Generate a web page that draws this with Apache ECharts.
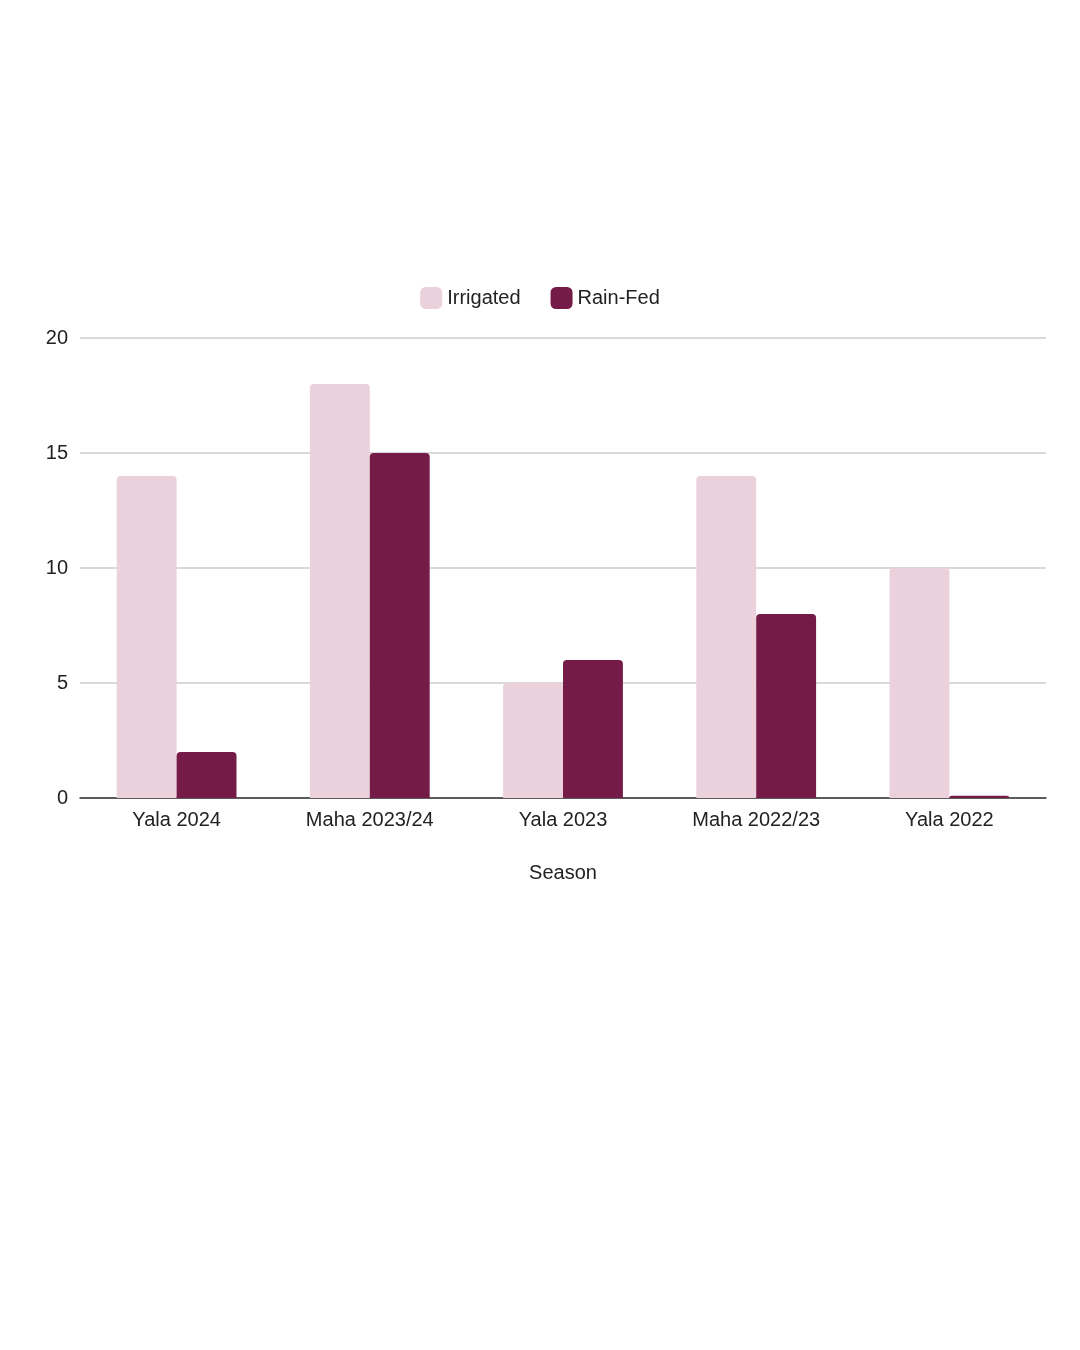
<!DOCTYPE html>
<html>
<head>
<meta charset="utf-8">
<script src="https://cdn.jsdelivr.net/npm/echarts@6/dist/echarts.min.js"></script>
<style>
  html, body { margin: 0; padding: 0; background: #fff; }
  #main { width: 1080px; height: 1350px; }
</style>
</head>
<body>
<div id="main"></div>
<script>
var seasons = ['Yala 2024', 'Maha 2023/24', 'Yala 2023', 'Maha 2022/23', 'Yala 2022'];
var irrigated = [14, 18, 5, 14, 10];
var rainFed = [2, 15, 6, 8, 0.1];

var chart = echarts.init(document.getElementById('main'));
chart.setOption({
  animation: false,
  textStyle: { fontFamily: 'Arial, Liberation Sans, sans-serif' },
  legend: {
    top: 282,
    left: 'center',
    itemWidth: 22,
    itemHeight: 22,
    itemGap: 30,
    icon: 'roundRect',
    textStyle: { fontSize: 20, color: '#222' },
    data: ['Irrigated', 'Rain-Fed']
  },
  grid: { left: 80, right: 34, top: 338, height: 460 },
  xAxis: {
    type: 'category',
    data: seasons,
    name: 'Season',
    nameLocation: 'middle',
    nameGap: 65,
    nameTextStyle: { fontSize: 20, color: '#222' },
    axisTick: { show: false },
    axisLine: { lineStyle: { color: '#333', width: 1.5 } },
    axisLabel: { fontSize: 20, color: '#222', margin: 12 }
  },
  yAxis: {
    type: 'value',
    min: 0,
    max: 20,
    interval: 5,
    axisLabel: { fontSize: 20, color: '#222', margin: 12 },
    splitLine: { lineStyle: { color: '#ccc', width: 1.5 } }
  },
  series: [
    {
      name: 'Irrigated',
      type: 'bar',
      data: irrigated,
      barGap: '0%',
      barCategoryGap: '38%',
      itemStyle: { color: '#ead1dc', borderRadius: [4, 4, 0, 0] }
    },
    {
      name: 'Rain-Fed',
      type: 'bar',
      data: rainFed,
      itemStyle: { color: '#741b47', borderRadius: [4, 4, 0, 0] }
    }
  ]
});
</script>
</body>
</html>
